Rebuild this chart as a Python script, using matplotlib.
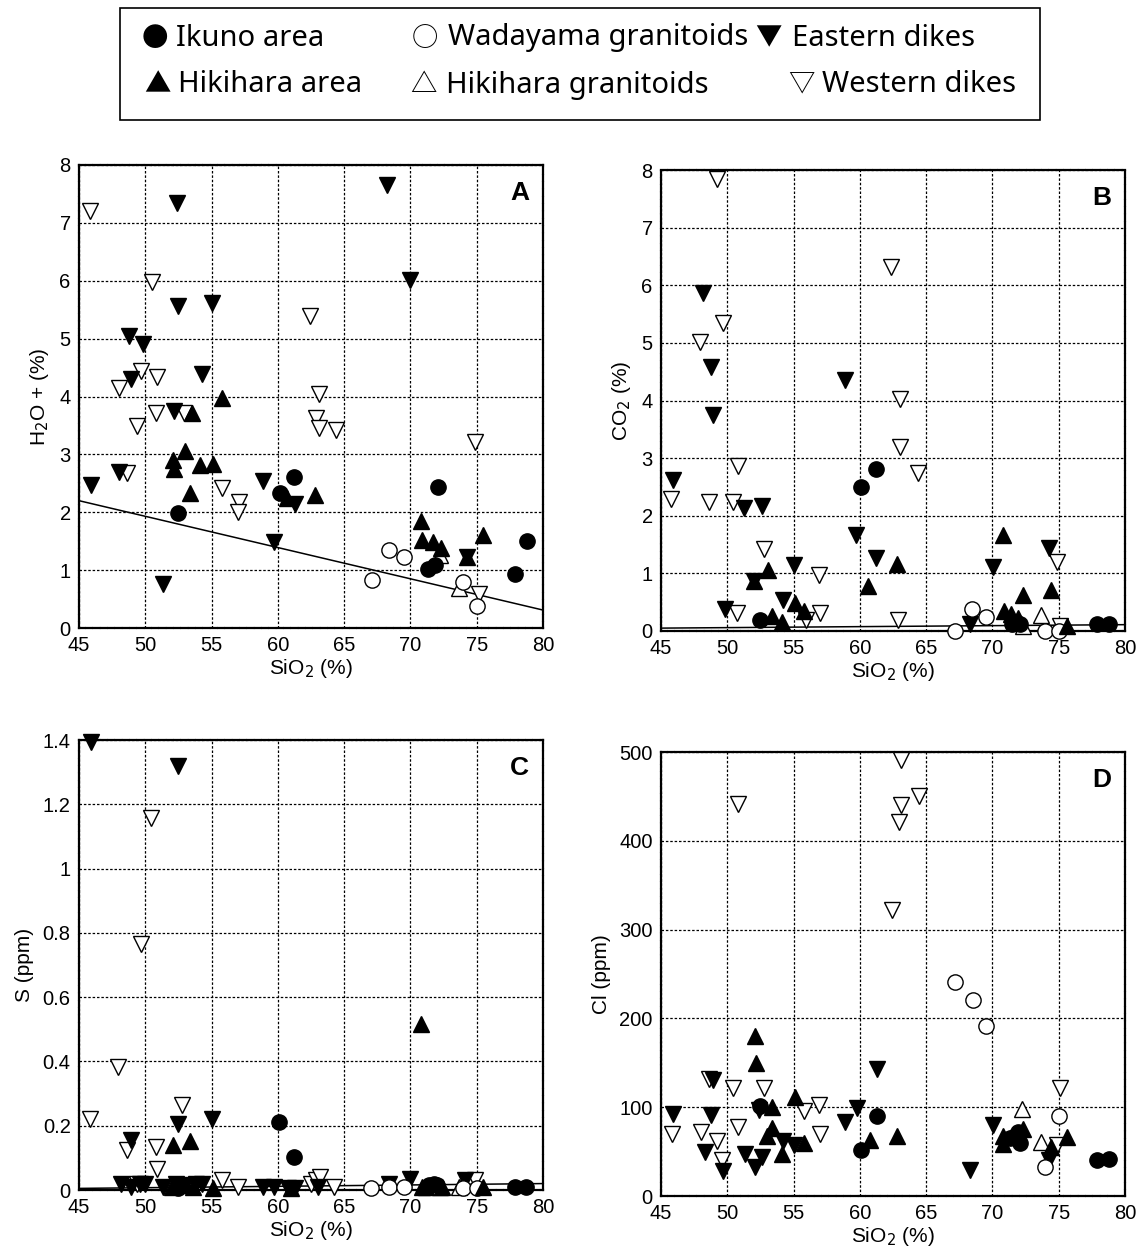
import matplotlib
matplotlib.use("Agg")
import matplotlib.pyplot as plt
import numpy as np
from matplotlib.patches import Rectangle

plt.rcParams['font.family'] = ['Liberation Sans', 'DejaVu Sans']

# ---- data: (SiO2, value) pairs ----
# A: H2O+ (%)
a_ikuno = [(52.5, 1.99), (60.15, 2.34), (61.2, 2.61), (72.05, 2.44), (71.3, 1.02),
           (71.85, 1.09), (78.8, 1.50), (77.9, 0.94)]
a_hiki = [(55.8, 3.97), (53.5, 3.72), (53.0, 3.06), (52.07, 2.90), (52.2, 2.74),
          (54.1, 2.82), (55.1, 2.83), (53.4, 2.33), (60.7, 2.25), (62.8, 2.29),
          (70.8, 1.85), (70.85, 1.52), (71.7, 1.48), (72.3, 1.39), (75.5, 1.61), (74.3, 1.23)]
a_wada = [(68.4, 1.35), (69.5, 1.23), (67.1, 0.83), (74.0, 0.80), (75.0, 0.38)]
a_hgran = [(72.2, 1.26), (73.7, 0.69)]
a_east = [(52.4, 7.35), (68.25, 7.65), (70.0, 6.02), (52.5, 5.57), (55.0, 5.62),
          (48.8, 5.05), (49.85, 4.90), (48.9, 4.31), (54.25, 4.39), (52.2, 3.75),
          (48.0, 2.70), (45.9, 2.47), (58.85, 2.54), (61.3, 2.15), (59.7, 1.48),
          (51.3, 0.76), (74.3, 1.23)]
a_west = [(45.8, 7.21), (50.5, 5.98), (62.4, 5.39), (49.7, 4.44), (50.9, 4.33),
          (48.0, 4.14), (63.1, 4.05), (50.8, 3.72), (52.9, 3.71), (49.35, 3.49),
          (62.9, 3.63), (63.1, 3.46), (64.4, 3.42), (74.86, 3.21), (48.6, 2.67),
          (55.8, 2.42), (57.06, 2.18), (56.96, 2.01), (75.2, 0.58)]
a_fit = [2.2, 0.31]

# B: CO2 (%)
b_ikuno = [(52.5, 0.19), (60.1, 2.50), (61.2, 2.81), (71.5, 0.12), (72.1, 0.12),
           (71.8, 0.15), (77.9, 0.12), (78.8, 0.12)]
b_hiki = [(53.05, 1.05), (52.0, 0.87), (53.4, 0.26), (54.1, 0.16), (55.1, 0.48),
          (55.8, 0.34), (60.6, 0.78), (62.8, 1.16), (70.8, 1.67), (72.3, 0.63),
          (74.4, 0.72), (70.85, 0.34), (71.4, 0.30), (71.9, 0.22), (75.6, 0.08)]
b_wada = [(68.45, 0.39), (69.5, 0.25), (67.2, 0.0), (74.0, 0.0), (75.0, 0.0)]
b_hgran = [(73.7, 0.28), (72.3, 0.08)]
b_east = [(48.2, 5.87), (48.8, 4.59), (48.9, 3.74), (58.85, 4.36), (45.9, 2.62),
          (51.26, 2.14), (52.6, 2.17), (59.7, 1.67), (55.0, 1.15), (52.0, 0.87),
          (49.8, 0.39), (54.2, 0.53), (61.2, 1.26), (70.05, 1.11), (74.3, 1.44), (68.3, 0.13)]
b_west = [(49.25, 7.84), (49.7, 5.35), (47.95, 5.02), (62.35, 6.31), (63.0, 4.02),
          (63.0, 3.20), (64.4, 2.75), (50.8, 2.86), (45.75, 2.29), (48.65, 2.23),
          (50.4, 2.23), (52.77, 1.42), (56.9, 0.97), (50.7, 0.31), (55.9, 0.19),
          (57.0, 0.31), (62.9, 0.19), (74.9, 1.19), (75.1, 0.08)]
b_fit = [0.05, 0.11]

# C: S (ppm)
c_ikuno = [(52.5, 0.005), (60.1, 0.211), (61.2, 0.103), (71.4, 0.015), (71.8, 0.02),
           (72.0, 0.015), (77.9, 0.01), (78.7, 0.01)]
c_hiki = [(52.1, 0.14), (53.4, 0.151), (52.0, 0.01), (53.0, 0.015), (53.6, 0.01),
          (55.1, 0.005), (70.78, 0.518), (70.9, 0.01), (71.2, 0.01), (72.4, 0.01),
          (75.5, 0.01), (61.0, 0.005)]
c_wada = [(67.05, 0.005), (68.4, 0.01), (69.5, 0.01), (74.0, 0.005), (75.0, 0.005)]
c_hgran = [(73.7, 0.01), (72.2, 0.01)]
c_east = [(45.9, 1.395), (52.44, 1.32), (52.5, 0.205), (55.0, 0.221), (48.9, 0.157),
          (48.2, 0.02), (48.9, 0.01), (49.6, 0.02), (50.0, 0.02), (51.3, 0.01),
          (52.3, 0.02), (53.0, 0.015), (53.8, 0.02), (54.3, 0.02), (58.9, 0.01),
          (59.7, 0.01), (60.8, 0.005), (61.3, 0.005), (63.0, 0.01), (68.4, 0.02),
          (70.0, 0.035), (74.1, 0.03)]
c_west = [(50.4, 1.156), (49.7, 0.764), (47.96, 0.383), (45.8, 0.221), (52.8, 0.265),
          (48.6, 0.124), (50.8, 0.135), (50.85, 0.065), (49.4, 0.02), (55.8, 0.03),
          (57.0, 0.01), (62.5, 0.02), (62.9, 0.03), (63.2, 0.04), (64.2, 0.01), (74.9, 0.03)]
c_fit = [0.005, 0.02]

# D: Cl (ppm)
d_ikuno = [(52.5, 101), (60.1, 52), (61.26, 90), (71.3, 65), (71.7, 68), (72.1, 60),
           (71.9, 72), (77.9, 41), (78.8, 42)]
d_hiki = [(52.1, 180), (52.2, 150), (55.1, 111), (53.4, 100), (53.0, 68), (53.4, 77),
          (54.1, 47), (55.8, 60), (60.75, 63), (62.8, 68), (70.8, 68), (70.8, 59),
          (72.3, 76), (74.4, 55), (75.6, 67)]
d_wada = [(67.2, 241), (68.5, 221), (69.5, 191), (75.05, 90), (74.0, 33)]
d_hgran = [(72.2, 98), (73.7, 61)]
d_east = [(45.9, 92), (48.8, 91), (48.9, 131), (48.3, 50), (49.7, 28), (51.3, 47),
          (52.1, 33), (52.6, 44), (52.4, 97), (54.2, 62), (55.0, 57), (58.9, 83),
          (59.75, 99), (61.26, 143), (68.3, 29), (70.05, 80), (74.3, 40)]
d_west = [(50.8, 441), (48.6, 132), (50.45, 122), (52.8, 122), (55.8, 96), (56.9, 102),
          (45.8, 70), (48.0, 72), (49.2, 62), (49.6, 40), (50.8, 78), (57.0, 70),
          (63.07, 491), (64.45, 451), (63.07, 440), (62.99, 421), (62.4, 322),
          (75.1, 122), (74.9, 57)]

x_ticks = [45, 50, 55, 60, 65, 70, 75, 80]
fit_x = [45, 80]

legend_symbols = [["●", "○", "▼"], ["▲", "△", "▽"]]
legend_labels = [["Ikuno area", "Wadayama granitoids", "Eastern dikes"],
                 ["Hikihara area", "Hikihara granitoids", "Western dikes"]]

# marker style per group: (marker, facecolor, size)
styles = {
    'ikuno': ('o', 'black', 11),
    'hiki': ('^', 'black', 11.5),
    'wada': ('o', 'white', 11),
    'hgran': ('^', 'white', 11.5),
    'east': ('v', 'black', 11.5),
    'west': ('v', 'white', 11.5),
}

W, H = 1142, 1254
fig = plt.figure(figsize=(W / 100, H / 100), dpi=100)


def px_rect(left, top, right, bottom):
    return [left / W, 1 - bottom / H, (right - left) / W, (bottom - top) / H]


panels = [
    ('A', px_rect(79, 165, 543, 628), 'H$_2$O + (%)', (0, 8), np.arange(0, 9, 1),
     dict(ikuno=a_ikuno, hiki=a_hiki, wada=a_wada, hgran=a_hgran, east=a_east, west=a_west), a_fit),
    ('B', px_rect(661, 170, 1125, 631), 'CO$_2$ (%)', (0, 8), np.arange(0, 9, 1),
     dict(ikuno=b_ikuno, hiki=b_hiki, wada=b_wada, hgran=b_hgran, east=b_east, west=b_west), b_fit),
    ('C', px_rect(79, 740, 543, 1190), 'S (ppm)', (0, 1.4), [0, 0.2, 0.4, 0.6, 0.8, 1, 1.2, 1.4],
     dict(ikuno=c_ikuno, hiki=c_hiki, wada=c_wada, hgran=c_hgran, east=c_east, west=c_west), c_fit),
    ('D', px_rect(661, 752, 1125, 1196), 'Cl (ppm)', (0, 500), np.arange(0, 501, 100),
     dict(ikuno=d_ikuno, hiki=d_hiki, wada=d_wada, hgran=d_hgran, east=d_east, west=d_west), None),
]

for letter, rect, ylab, ylim, yticks, groups, fit in panels:
    ax = fig.add_axes(rect)
    ax.set_xlim(45, 80)
    ax.set_ylim(*ylim)
    ax.set_xticks(x_ticks)
    ax.set_yticks(yticks)
    ax.set_yticklabels(['%g' % t for t in yticks])
    ax.grid(True, color='black', linestyle=(0, (2, 1.5)), linewidth=0.9)
    ax.set_axisbelow(True)
    for sp in ax.spines.values():
        sp.set_linestyle((0, (2.5, 0.8)))
        sp.set_linewidth(1.6)
    ax.tick_params(labelsize=14.5, length=0, pad=6)
    ax.set_xlabel('SiO$_2$ (%)', fontsize=15, labelpad=1)
    ax.set_ylabel(ylab, fontsize=15, labelpad=6)
    ax.text(0.97, 0.965, letter, transform=ax.transAxes, ha='right', va='top',
            fontsize=19, fontweight='bold')
    if fit is not None:
        ax.plot(fit_x, fit, color='black', linewidth=1.1, zorder=2)
    for key in ['west', 'east', 'hgran', 'wada', 'hiki', 'ikuno']:
        pts = np.array(groups[key])
        m, fc, ms = styles[key]
        ax.plot(pts[:, 0], pts[:, 1], linestyle='none', marker=m, markersize=ms,
                markerfacecolor=fc, markeredgecolor='black', markeredgewidth=1.0,
                clip_on=False, zorder=3)

# legend box drawn as symbol + text entries
fig.patches.append(Rectangle((120 / W, 1 - 120 / H), 920 / W, 112 / H,
                             transform=fig.transFigure, fill=False, edgecolor='black',
                             linewidth=1.2))
sym_x = [[142, 412, 755], [144, 410, 788]]
txt_x = [[176, 448, 792], [178, 446, 822]]
row_y = [38, 85]
for r in range(2):
    for c in range(3):
        y = 1 - row_y[r] / H
        fig.text(sym_x[r][c] / W, y, legend_symbols[r][c], ha='left', va='center',
                 fontsize=19, family=['Noto Sans CJK JP', 'DejaVu Sans'])
        fig.text(txt_x[r][c] / W, y, legend_labels[r][c], ha='left', va='center',
                 fontsize=21, family=['Noto Sans', 'DejaVu Sans'])

fig.savefig('out.png', dpi=100)
